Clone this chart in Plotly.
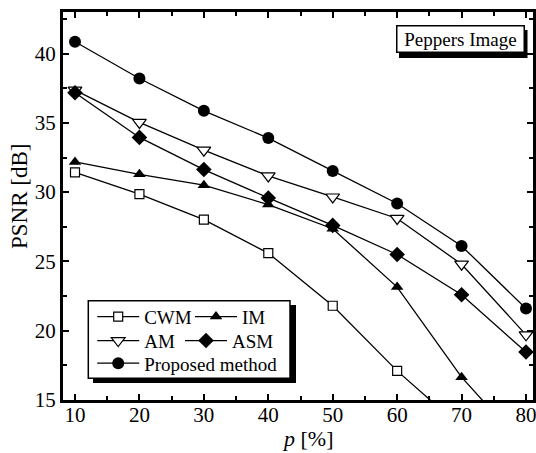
import plotly.graph_objects as go

# ---- data ----
p_percent = [10, 20, 30, 40, 50, 60, 70, 80]
cwm = [31.42, 29.85, 28.02, 25.6, 21.8, 17.1, 13.0, None]
im = [32.18, 31.29, 30.5, 29.1, 27.36, 23.15, 16.65, 11.5]
am = [37.36, 35.03, 33.03, 31.17, 29.65, 28.1, 24.8, 19.7]
asm = [37.17, 33.95, 31.63, 29.58, 27.6, 25.5, 22.6, 18.46]
proposed = [40.85, 38.2, 35.87, 33.9, 31.53, 29.18, 26.12, 21.6]

series_names = ["CWM", "IM", "AM", "ASM", "Proposed method"]
x_tick_vals = [10, 20, 30, 40, 50, 60, 70, 80]
y_tick_vals = [15, 20, 25, 30, 35, 40]
x_range = [8.137, 81.086]
y_range = [15, 43]

FONT = "Liberation Serif, Times New Roman, serif"
W, H = 536, 453
ML, MR, MT, MB = 63, 3, 12, 53
PW = W - ML - MR
PH = H - MT - MB


def xp(px):
    return (px - ML) / PW


def yp(py):
    return (H - MB - py) / PH


fig = go.Figure()

styles = [
    dict(symbol="square", size=9, color="white", line=dict(color="black", width=1.2)),
    dict(symbol="triangle-up", size=11, color="black", line=dict(color="black", width=0)),
    dict(symbol="triangle-down", size=12, color="white", line=dict(color="black", width=1.2)),
    dict(symbol="diamond", size=12, color="black", line=dict(color="black", width=0)),
    dict(symbol="circle", size=12, color="black", line=dict(color="black", width=0)),
]
legend_ids = ["legend", "legend2", "legend3", "legend4", "legend5"]

for name, ys, st, lg in zip(series_names, [cwm, im, am, asm, proposed], styles, legend_ids):
    fig.add_trace(go.Scatter(
        x=p_percent, y=ys, name=name, mode="lines+markers",
        line=dict(color="black", width=1.3),
        marker=st, legend=lg, connectgaps=False,
    ))

leg_pos = {
    "legend": (92.2, 316.7),
    "legend2": (190, 316.7),
    "legend3": (92.2, 340.7),
    "legend4": (180, 340.7),
    "legend5": (92.2, 363.3),
}
legend_layout = {}
for lg, (px, py) in leg_pos.items():
    legend_layout[lg] = dict(
        orientation="h", x=xp(px), xanchor="left", y=yp(py), yanchor="middle",
        bgcolor="rgba(0,0,0,0)", borderwidth=0, itemwidth=42,
        font=dict(family=FONT, size=19, color="black"),
    )

axis_common = dict(
    showgrid=False, zeroline=False, showline=True, linecolor="black", linewidth=3,
    mirror="allticks", ticks="inside", ticklen=6, tickwidth=2, tickcolor="black",
    tickfont=dict(family=FONT, size=21, color="black"), automargin=False,
    ticklabeloverflow="allow",
)

fig.update_layout(
    width=W, height=H, autosize=False,
    margin=dict(l=ML, r=MR, t=MT, b=MB, autoexpand=False),
    paper_bgcolor="white", plot_bgcolor="white",
    font=dict(family=FONT, color="black"),
    xaxis=dict(
        range=x_range, tickvals=x_tick_vals, ticklabelstandoff=-6,
        minor=dict(dtick=5, tick0=0, ticks="inside", ticklen=4, tickwidth=2, tickcolor="black"),
        **axis_common,
    ),
    yaxis=dict(
        range=y_range, tickvals=y_tick_vals,
        minor=dict(dtick=2.5, tick0=0, ticks="inside", ticklen=4, tickwidth=2, tickcolor="black"),
        **axis_common,
    ),
    showlegend=True,
    **legend_layout,
)

# axis titles
fig.add_annotation(text="<i>p</i> [%]", xref="paper", yref="paper",
                   x=xp(307.5), y=yp(438.5), xanchor="center", yanchor="middle",
                   showarrow=False, font=dict(family=FONT, size=22, color="black"))
fig.add_annotation(text="PSNR [dB]", xref="paper", yref="paper", textangle=-90,
                   x=xp(19.5), y=yp(196.5), xanchor="center", yanchor="middle",
                   showarrow=False, font=dict(family=FONT, size=23, color="black"))

# legend frame with drop shadow
fig.add_shape(type="rect", xref="paper", yref="paper",
              x0=xp(93), x1=xp(296), y0=yp(305), y1=yp(383),
              fillcolor="black", line=dict(width=0), layer="below")
fig.add_shape(type="rect", xref="paper", yref="paper",
              x0=xp(88.3), x1=xp(290), y0=yp(300.7), y1=yp(378.3),
              fillcolor="white", line=dict(color="black", width=1.5), layer="below")

# "Peppers Image" label with drop shadow
fig.add_shape(type="rect", xref="paper", yref="paper",
              x0=xp(399), x1=xp(527.5), y0=yp(30), y1=yp(58),
              fillcolor="black", line=dict(width=0), layer="below")
fig.add_annotation(
    text="Peppers Image", xref="paper", yref="paper",
    x=xp(524.5), xanchor="right", y=yp(24.7), yanchor="top",
    showarrow=False, font=dict(family=FONT, size=19, color="black"),
    bgcolor="white", bordercolor="black", borderwidth=1.5, borderpad=1,
    width=124, height=23,
)

fig.write_html(
    "out.html", config={"displayModeBar": False},
    post_script="document.documentElement.style.margin='0px';document.body.style.margin='0px';"
                "document.body.style.overflow='hidden';",
)
